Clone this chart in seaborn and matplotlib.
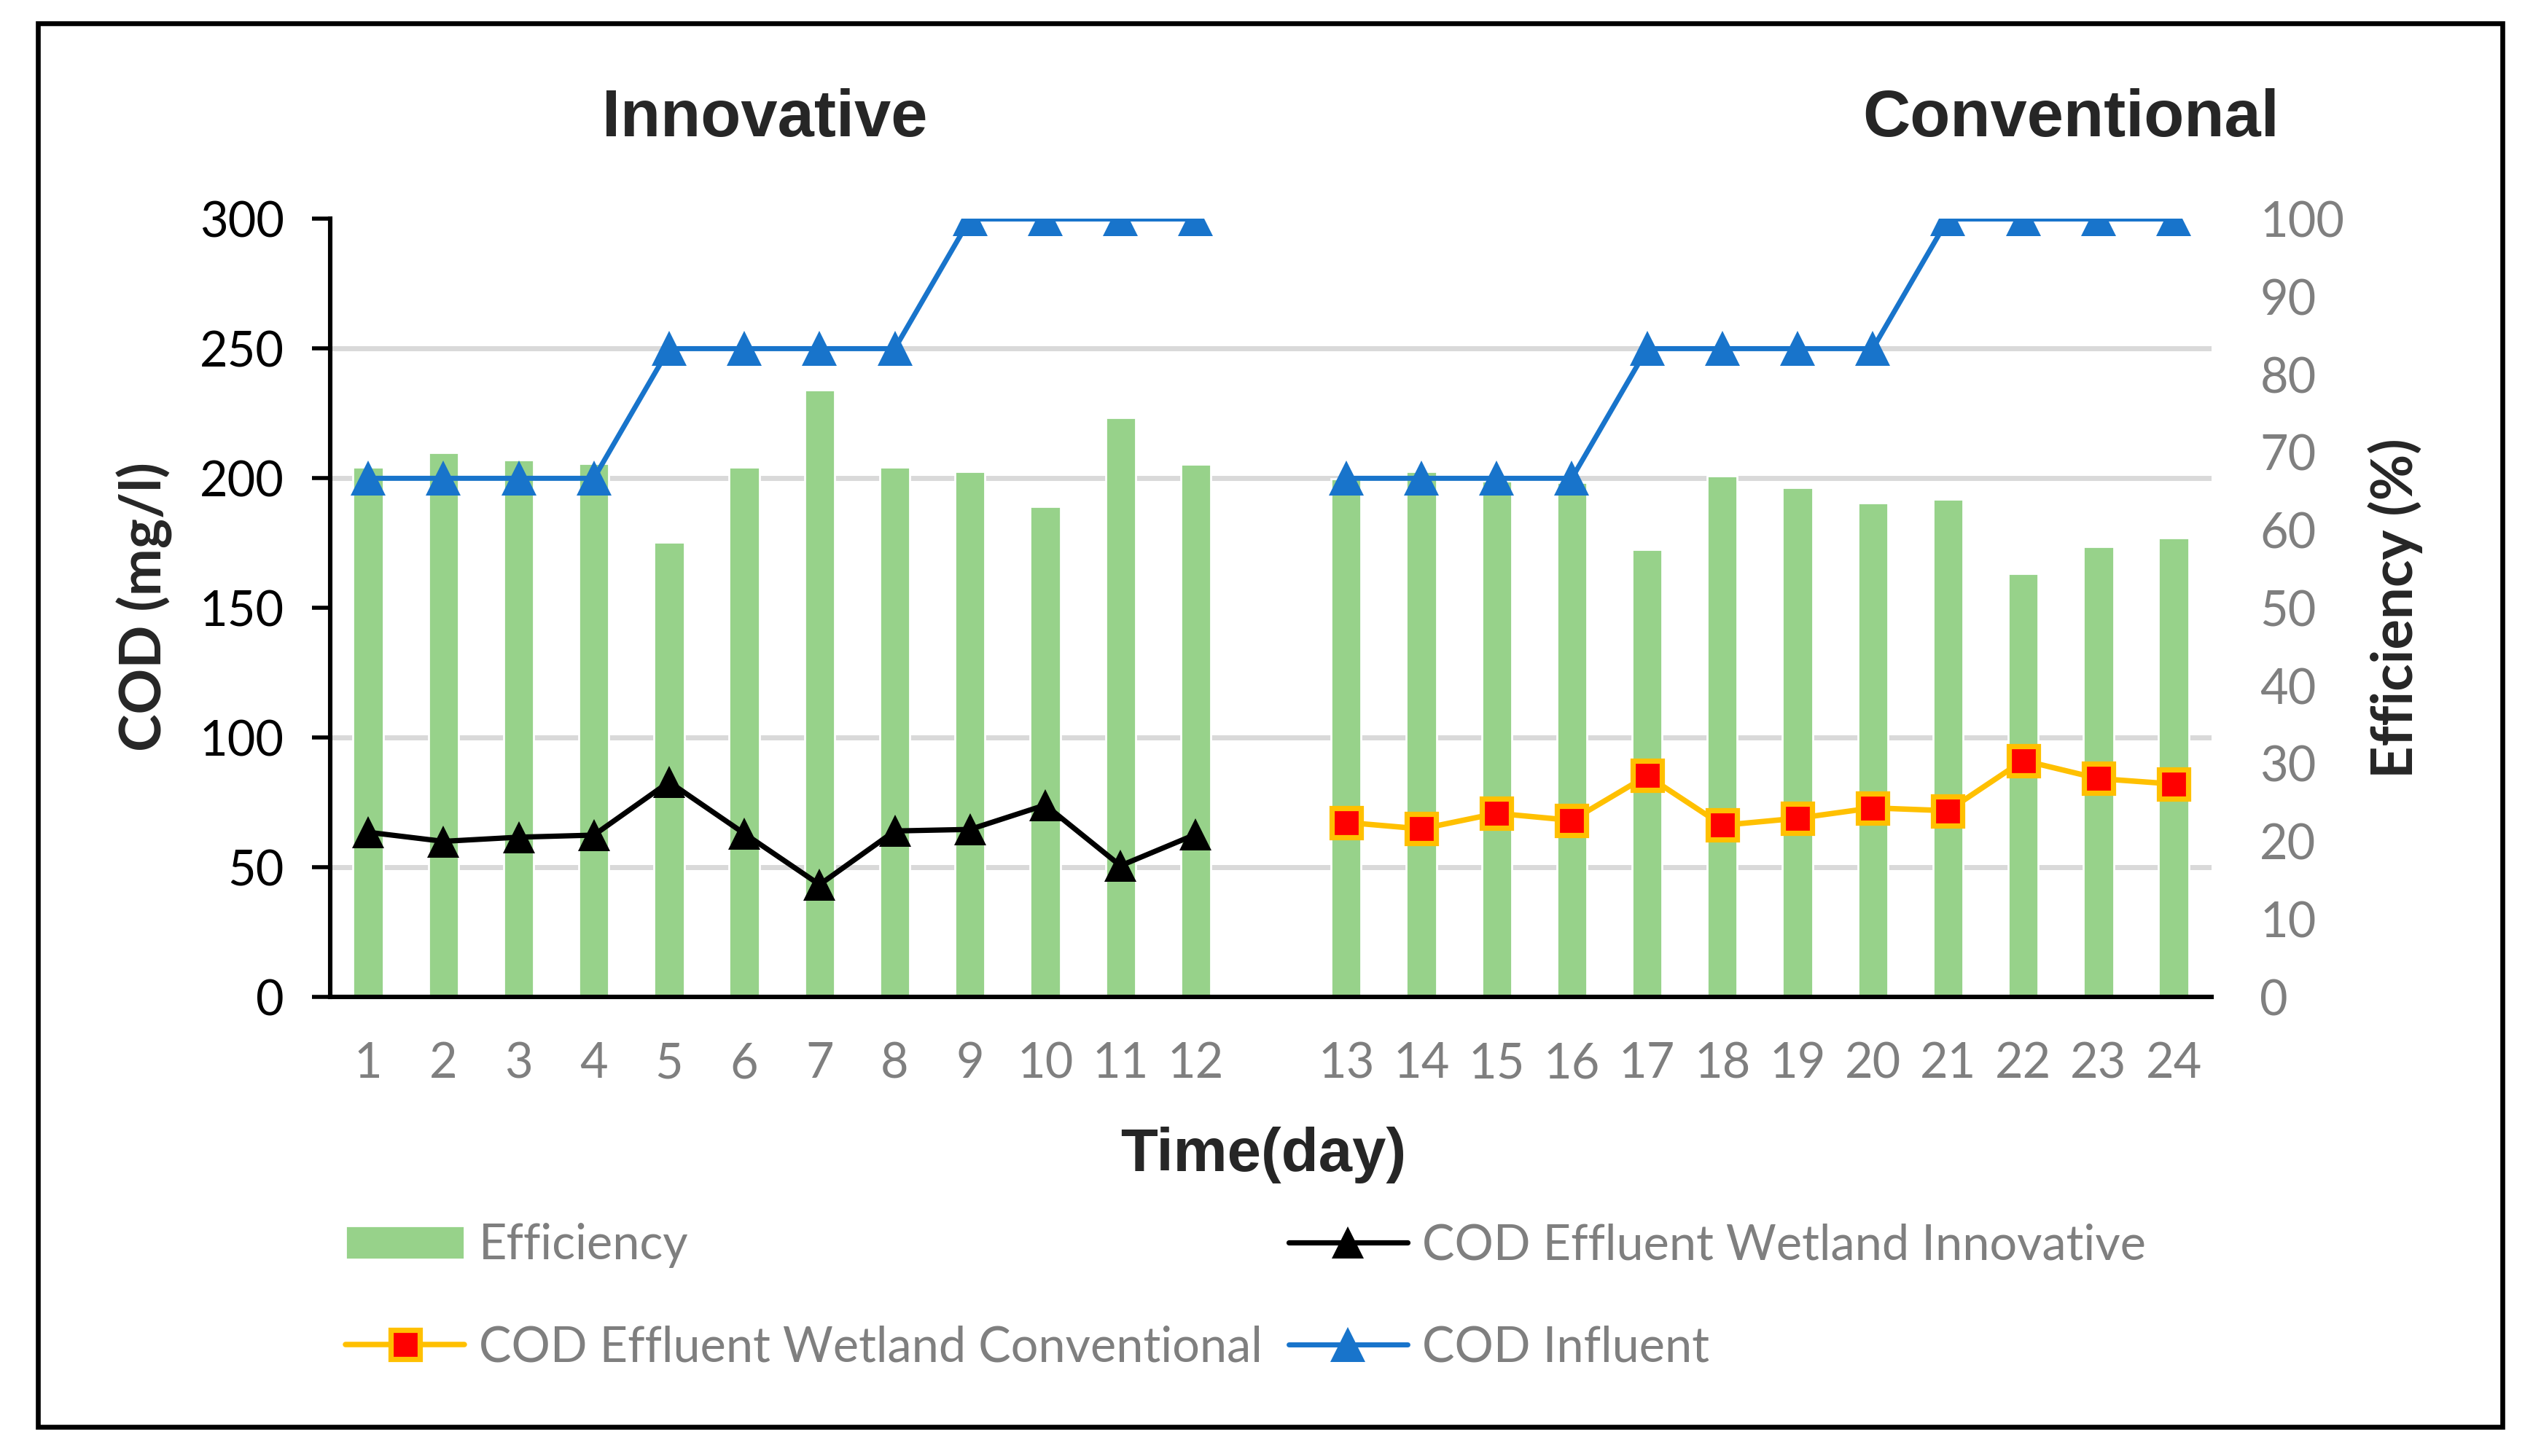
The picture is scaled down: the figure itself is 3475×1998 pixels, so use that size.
import pandas as pd
import seaborn as sns
import matplotlib.pyplot as plt
from matplotlib.lines import Line2D
from matplotlib.patches import Patch, Rectangle
from matplotlib.ticker import FixedLocator

# days 1-12 = innovative wetland, 13-24 = conventional, blank slot between them
days_innov = [str(d) for d in range(1, 13)]
days_conv = [str(d) for d in range(13, 25)]
day_order = days_innov + [" "] + days_conv

# removal efficiency (%)
eff_innov = [68.1, 70.0, 69.0, 68.6, 58.5, 68.1, 78.0, 68.1, 67.5, 63.0, 74.5, 68.5]
eff_conv = [66.6, 67.5, 66.3, 66.1, 57.5, 67.0, 65.5, 63.5, 64.0, 54.4, 57.9, 59.0]

# COD (mg/l)
cod_out_innov = [63.5, 60.0, 61.6, 62.4, 82.9, 63.0, 43.3, 64.0, 64.6, 74.0, 50.6, 62.7]
cod_out_conv = [67.3, 64.8, 70.8, 68.1, 85.3, 66.2, 68.9, 72.9, 71.8, 91.2, 84.2, 82.1]
cod_in_innov = [200, 200, 200, 200, 250, 250, 250, 250, 300, 300, 300, 300]
cod_in_conv = [200, 200, 200, 200, 250, 250, 250, 250, 300, 300, 300, 300]

cod_ticks = [0, 50, 100, 150, 200, 250, 300]
eff_ticks = [0, 10, 20, 30, 40, 50, 60, 70, 80, 90, 100]

GREEN = "#97D28A"
BLUE = "#1874CB"
GOLD = "#FFC000"
GRAY = "#7F7F7F"

sns.set_style("white")
plt.rcParams["font.family"] = ["Lato", "DejaVu Sans"]

pos_innov = [day_order.index(d) for d in days_innov]
pos_conv = [day_order.index(d) for d in days_conv]

df = pd.DataFrame({"day": days_innov + days_conv,
                   "efficiency": eff_innov + eff_conv})

fig = plt.figure(figsize=(17.375, 9.99))
ax = fig.add_axes([0.1305, 0.3153, 0.7425, 0.5343])
ax2 = ax.twinx()

# bars on the efficiency axis (drawn underneath)
sns.barplot(data=df, x="day", y="efficiency", order=day_order, color=GREEN,
            saturation=1, width=0.4, ax=ax2)
ax2.set_ylim(0, 100)
ax2.set_yticks(eff_ticks)
ax2.set_axisbelow(True)
# gridlines follow the COD ticks
ax2.yaxis.set_minor_locator(FixedLocator([t * 100 / 300 for t in cod_ticks[1:]]))
ax2.grid(which="minor", axis="y", color="#D9D9D9", linewidth=2.5)
ax2.grid(which="major", visible=False)
ax2.tick_params(axis="y", which="both", length=0, labelsize=24,
                labelcolor=GRAY, pad=24)
for s in ax2.spines.values():
    s.set_visible(False)
ax2.set_ylabel("Efficiency (%)", fontsize=28, fontweight="bold")
ax2.yaxis.label.set_va("center")
ax2.yaxis.set_label_coords(1.098, 0.5)

# COD lines on top
ax.set_zorder(ax2.get_zorder() + 1)
ax.patch.set_visible(False)

line_innov = dict(color="black", marker="^", markersize=15.5, linewidth=2.6,
                  markeredgecolor="black", markeredgewidth=0)
line_conv = dict(color=GOLD, marker="s", markersize=14.6, linewidth=2.7,
                 markerfacecolor="red", markeredgecolor=GOLD, markeredgewidth=2.6)
line_in = dict(color=BLUE, marker="^", markersize=17, linewidth=2.5,
               markeredgecolor=BLUE, markeredgewidth=0)

sns.lineplot(x=pos_innov, y=cod_in_innov, ax=ax, **line_in)
sns.lineplot(x=pos_conv, y=cod_in_conv, ax=ax, **line_in)
sns.lineplot(x=pos_innov, y=cod_out_innov, ax=ax, **line_innov)
sns.lineplot(x=pos_conv, y=cod_out_conv, ax=ax, **line_conv)

ax.set_ylim(0, 300)
ax.set_yticks(cod_ticks)
ax.set_xlim(-0.5, len(day_order) - 0.5)
ax.set_xticks(range(len(day_order)))
ax.set_xticklabels(day_order)
ax.tick_params(axis="y", length=9, width=2, labelsize=24, labelcolor="black",
               pad=14, left=True, color="black")
ax.tick_params(axis="x", length=0, labelsize=24, labelcolor=GRAY, pad=22)
for side in ["top", "right"]:
    ax.spines[side].set_visible(False)
for side in ["left", "bottom"]:
    ax.spines[side].set_color("black")
    ax.spines[side].set_linewidth(2.2)

ax.set_ylabel("COD (mg/l)", fontsize=28, fontweight="bold")
ax.yaxis.label.set_va("center")
ax.yaxis.set_label_coords(-0.0987, 0.502)
ax.set_xlabel("Time(day)", fontsize=30, fontweight="bold",
              family="Liberation Sans")
ax.xaxis.label.set_va("baseline")
ax.xaxis.set_label_coords(0.496, -0.2235)

fig.text(0.302, 0.9065, "Innovative", ha="center", va="baseline",
         fontsize=32.5, fontweight="bold", family="Liberation Sans")
fig.text(0.8176, 0.9065, "Conventional", ha="center", va="baseline",
         fontsize=32.5, fontweight="bold", family="Liberation Sans")

# legend, filled column-wise: col 1 = Efficiency / Conventional, col 2 = Innovative / Influent
handles = [Patch(facecolor=GREEN),
           Line2D([], [], **line_conv),
           Line2D([], [], **line_innov),
           Line2D([], [], **line_in)]
labels = ["Efficiency", "COD Effluent Wetland Conventional",
          "COD Effluent Wetland Innovative", "COD Influent"]
fig.legend(handles, labels, loc="upper left", bbox_to_anchor=(0.1364, 0.160),
           ncol=2, frameon=False, fontsize=24, handlelength=2.45,
           handletextpad=0.3, columnspacing=0.53, labelspacing=1.17,
           borderpad=0, borderaxespad=0, labelcolor=GRAY)

fig.add_artist(Rectangle((0.015, 0.020), 0.973, 0.964, transform=fig.transFigure,
                         fill=False, edgecolor="black", linewidth=2.4))

fig.savefig("out.png", dpi=200)
